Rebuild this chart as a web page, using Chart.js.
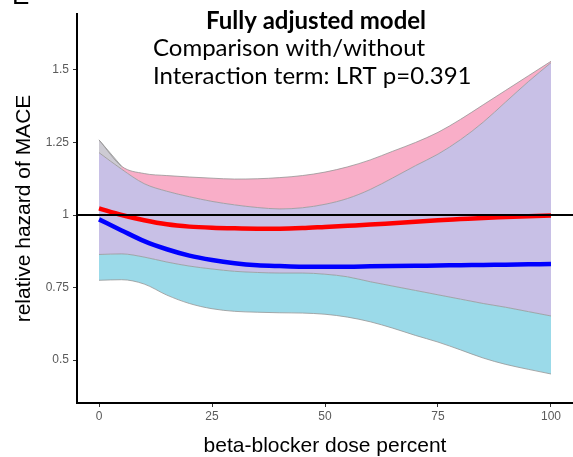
<!DOCTYPE html>
<html>
<head>
<meta charset="utf-8">
<script src="https://cdn.jsdelivr.net/npm/chart.js@4.4.0/dist/chart.umd.min.js"></script>
<style>
  html, body { margin: 0; padding: 0; background: #fff; }
  canvas { display: block; }
</style>
</head>
<body>
<canvas id="chart" width="573" height="457"></canvas>
<script>
const dose = [0, 5, 10, 15, 20, 25, 30, 35, 40, 45, 50, 55, 60, 65, 70, 75, 80, 85, 90, 95, 100];

// red curve and its confidence band
const redFit   = [1.023, 1.0, 0.982, 0.968, 0.96, 0.956, 0.954, 0.953, 0.953, 0.955, 0.959, 0.963, 0.967, 0.972, 0.977, 0.982, 0.986, 0.99, 0.993, 0.996, 0.998];
const redLower = [0.864, 0.866, 0.855, 0.838, 0.824, 0.814, 0.806, 0.802, 0.80, 0.80, 0.796, 0.787, 0.77, 0.755, 0.74, 0.725, 0.71, 0.695, 0.682, 0.667, 0.652];
const redUpper = [1.259, 1.168, 1.143, 1.136, 1.131, 1.127, 1.124, 1.125, 1.129, 1.136, 1.148, 1.166, 1.19, 1.22, 1.25, 1.285, 1.33, 1.38, 1.43, 1.48, 1.53];

// blue curve and its confidence band
const blueFit   = [0.985, 0.947, 0.91, 0.882, 0.86, 0.845, 0.834, 0.827, 0.824, 0.822, 0.822, 0.822, 0.823, 0.824, 0.825, 0.826, 0.827, 0.828, 0.829, 0.83, 0.831];
const blueLower = [0.775, 0.777, 0.762, 0.724, 0.695, 0.677, 0.668, 0.665, 0.663, 0.662, 0.658, 0.648, 0.632, 0.61, 0.585, 0.562, 0.535, 0.507, 0.485, 0.468, 0.452];
const blueUpper = [1.215, 1.158, 1.108, 1.082, 1.063, 1.047, 1.035, 1.026, 1.021, 1.025, 1.037, 1.057, 1.088, 1.128, 1.17, 1.21, 1.26, 1.32, 1.39, 1.46, 1.525];

// small grey wedge at the very left, between the two upper limits
const wedgeDose = [0, 5];
const wedgeTop  = [1.259, 1.168];

const xTicks = [0, 25, 50, 75, 100];
const yTicks = [0.5, 0.75, 1, 1.25, 1.5];
const yTickLabels = ["0.5", "0.75", "1", "1.25", "1.5"];
const refLine = 1;

const titleText = "Fully adjusted model";
const noteLines = ["Comparison with/without", "Interaction term: LRT p=0.391"];

const pts = (xs, ys) => ys.map((y, i) => ({ x: xs[i], y: y }));
const bandEdge = "rgba(150,150,150,0.8)";

const band = (data, fill, bg) => ({
    data: pts(dose, data),
    fill: fill,
    backgroundColor: bg,
    borderColor: bandEdge,
    borderWidth: 1,
    pointRadius: 0,
    cubicInterpolationMode: "monotone",
    order: 5
});

const annotations = {
    id: "annotations",
    afterDatasetsDraw(chart) {
        const { ctx, chartArea, scales } = chart;
        const y = scales.y.getPixelForValue(refLine);
        ctx.save();
        ctx.strokeStyle = "#000";
        ctx.lineWidth = 2;
        ctx.beginPath();
        ctx.moveTo(chartArea.left, y);
        ctx.lineTo(chartArea.right, y);
        ctx.stroke();

        ctx.fillStyle = "#000";
        ctx.textBaseline = "middle";
        ctx.textAlign = "center";
        ctx.font = "bold 24px Lato";
        ctx.fillText(titleText, 316, 21);
        ctx.textAlign = "left";
        ctx.font = "24px Lato";
        noteLines.forEach((t, i) => ctx.fillText(t, 153, 48 + i * 28));
        ctx.restore();
    },
    afterDraw(chart) {
        const { ctx } = chart;
        ctx.save();
        ctx.fillStyle = "#000";
        ctx.textBaseline = "alphabetic";
        ctx.font = "26px 'Liberation Sans'";
        ctx.fillText("E", 12, 4);
        ctx.restore();
    }
};

new Chart(document.getElementById("chart"), {
    type: "line",
    data: {
        datasets: [
            band(blueLower, false, "transparent"),
            band(redLower, "-1", "#9bdae9"),
            band(blueUpper, "-1", "#c8c0e6"),
            band(redUpper, "-1", "#f9aec8"),
            {
                data: pts(wedgeDose, wedgeTop),
                fill: 2,
                backgroundColor: "#cdcbd3",
                borderColor: bandEdge,
                borderWidth: 1,
                pointRadius: 0,
                order: 4
            },
            {
                data: pts(dose, blueFit),
                borderColor: "#0000ff",
                borderWidth: 4.5,
                pointRadius: 0,
                fill: false,
                cubicInterpolationMode: "monotone",
                order: 1
            },
            {
                data: pts(dose, redFit),
                borderColor: "#ff0000",
                borderWidth: 4.5,
                pointRadius: 0,
                fill: false,
                cubicInterpolationMode: "monotone",
                order: 0
            }
        ]
    },
    options: {
        responsive: false,
        animation: false,
        devicePixelRatio: 1,
        layout: { padding: { top: 14, left: 0, right: 0, bottom: 0 } },
        plugins: {
            legend: { display: false },
            tooltip: { enabled: false },
            filler: { drawTime: "beforeDatasetsDraw" }
        },
        scales: {
            x: {
                type: "linear",
                min: -4.87,
                max: 104.87,
                afterBuildTicks: s => { s.ticks = xTicks.map(v => ({ value: v })); },
                afterFit: s => { s.height = 54; },
                ticks: {
                    color: "#5a5a5a",
                    font: { family: "Liberation Sans", size: 12 },
                    padding: 2,
                    maxRotation: 0,
                    autoSkip: false
                },
                grid: { drawOnChartArea: false, drawTicks: true, tickLength: 4, color: "#333" },
                border: { color: "#000", width: 2 },
                title: {
                    display: true,
                    text: "beta-blocker dose percent",
                    color: "#000",
                    font: { family: "Liberation Sans", size: 21, lineHeight: 1 },
                    padding: { top: 0, bottom: 0 }
                }
            },
            y: {
                type: "linear",
                min: 0.352,
                max: 1.693,
                afterBuildTicks: s => { s.ticks = yTicks.map(v => ({ value: v })); },
                afterFit: s => { s.width = 77; },
                ticks: {
                    color: "#5a5a5a",
                    font: { family: "Liberation Sans", size: 12 },
                    padding: 4,
                    autoSkip: false,
                    callback: v => yTickLabels[yTicks.indexOf(v)]
                },
                grid: { drawOnChartArea: false, drawTicks: true, tickLength: 4, color: "#333" },
                border: { color: "#000", width: 2 },
                title: {
                    display: true,
                    text: "relative hazard of MACE",
                    color: "#000",
                    font: { family: "Liberation Sans", size: 21, lineHeight: 1 },
                    padding: { top: 14, bottom: 0 }
                }
            }
        }
    },
    plugins: [annotations]
});
</script>
</body>
</html>
